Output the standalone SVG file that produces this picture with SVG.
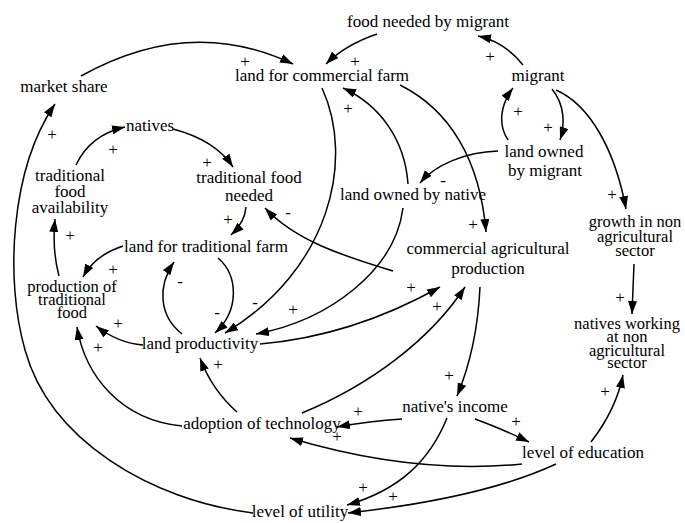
<svg xmlns="http://www.w3.org/2000/svg" width="685" height="523" viewBox="0 0 685 523">
<defs>
<marker id="ah" markerUnits="userSpaceOnUse" markerWidth="14" markerHeight="10" refX="13" refY="4.5" orient="auto">
<path d="M0,0 L13,4.5 L0,9 z" fill="#000"/>
</marker>
<style>
text{font-family:"Liberation Serif","Times New Roman",serif;font-size:17px;fill:#000;text-anchor:middle}
.t{font-size:16.5px}
.c path{fill:none;stroke:#000;stroke-width:1.5;marker-end:url(#ah)}
</style>
</defs>
<rect width="685" height="523" fill="#fff"/>
<g class="c" id="connectors">
<path d="M81,76 Q190,15 293,64"/>
<path d="M377,34 Q345,45 326,64"/>
<path d="M523,65 Q505,42 478,36"/>
<path d="M508,140 C498,125 500,105 513,88"/>
<path d="M552,89 C565,105 565,125 560,140"/>
<path d="M556,90 C590,105 615,150 626,209"/>
<path d="M634,264 L632,314"/>
<path d="M498,151 C465,152 435,165 420,183"/>
<path d="M408,184 C405,140 380,105 343,88"/>
<path d="M400,85 C450,110 480,160 486,232"/>
<path d="M322,88 C355,160 330,270 225,333"/>
<path d="M403,208 C395,270 330,320 256,334"/>
<path d="M393,271 C340,255 295,240 265,208"/>
<path d="M246,207 Q245,222 231,235"/>
<path d="M173,129 Q215,140 233,167"/>
<path d="M76,165 Q90,135 125,127"/>
<path d="M59,276 Q52,250 55,219"/>
<path d="M123,246 Q95,255 83,277"/>
<path d="M143,345 Q118,343 96,326"/>
<path d="M218,258 C238,275 240,310 215,333"/>
<path d="M182,334 C158,315 158,285 174,262"/>
<path d="M182,426 C120,420 85,375 77,327"/>
<path d="M253,513 C150,500 50,440 25,350 C5,280 10,170 55,104"/>
<path d="M237,412 Q212,390 200,358"/>
<path d="M302,413 C370,385 430,340 465,287"/>
<path d="M260,344 C330,338 390,315 440,287"/>
<path d="M480,287 C478,330 470,365 457,396"/>
<path d="M402,419 Q370,421 337,427"/>
<path d="M522,464 C460,470 380,465 290,438"/>
<path d="M475,419 Q500,428 529,442"/>
<path d="M591,442 C608,420 618,400 623,375"/>
<path d="M447,418 C430,460 400,490 347,505"/>
<path d="M556,464 C500,490 420,505 348,513"/>
</g>
<g id="polarities">
<text x="245" y="67">+</text>
<text x="355" y="67">+</text>
<text x="490" y="62">+</text>
<text x="518" y="117">+</text>
<text x="548" y="133">+</text>
<text x="612" y="200">+</text>
<text x="620" y="303">+</text>
<text x="443" y="186">-</text>
<text x="348" y="114">+</text>
<text x="473" y="230">+</text>
<text x="255" y="308">-</text>
<text x="293" y="315">+</text>
<text x="288" y="218">-</text>
<text x="228" y="225">+</text>
<text x="207" y="168">+</text>
<text x="113" y="155">+</text>
<text x="70" y="241">+</text>
<text x="113" y="275">+</text>
<text x="118" y="329">+</text>
<text x="217" y="318">-</text>
<text x="180" y="287">-</text>
<text x="98" y="353">+</text>
<text x="52" y="140">+</text>
<text x="218" y="370">+</text>
<text x="437" y="312">+</text>
<text x="411" y="293">+</text>
<text x="449" y="381">+</text>
<text x="358" y="417">+</text>
<text x="337" y="442">+</text>
<text x="516" y="427">+</text>
<text x="605" y="397">+</text>
<text x="363" y="493">+</text>
<text x="393" y="502">+</text>
</g>
<g id="food-needed-by-migrant"><text x="428" y="27">food needed by migrant</text></g>
<g id="land-for-commercial-farm"><text x="322" y="81">land for commercial farm</text></g>
<g id="migrant"><text x="538" y="81">migrant</text></g>
<g id="market-share"><text x="64" y="92">market share</text></g>
<g id="natives"><text x="150" y="131">natives</text></g>
<g id="land-owned-by-migrant"><text x="544" y="157">land owned</text><text x="545" y="176">by migrant</text></g>
<g id="traditional-food-availability"><text x="70" y="181">traditional</text><text x="70" y="197">food</text><text x="70" y="213">availability</text></g>
<g id="traditional-food-needed"><text x="249" y="183">traditional food</text><text x="249" y="201">needed</text></g>
<g id="land-owned-by-native"><text x="413" y="200">land owned by native</text></g>
<g id="commercial-agricultural-production"><text x="488" y="254">commercial agricultural</text><text x="488" y="274">production</text></g>
<g id="growth-in-non-agricultural-sector"><text class="t" x="635" y="227">growth in non</text><text class="t" x="635" y="242">agricultural</text><text class="t" x="635" y="256">sector</text></g>
<g id="land-for-traditional-farm"><text x="206" y="252">land for traditional farm</text></g>
<g id="production-of-traditional-food"><text class="t" x="72" y="292">production of</text><text class="t" x="72" y="305">traditional</text><text class="t" x="72" y="318">food</text></g>
<g id="land-productivity"><text x="200" y="349">land productivity</text></g>
<g id="natives-working-at-non-agricultural-sector"><text class="t" x="627" y="329">natives working</text><text class="t" x="627" y="342">at non</text><text class="t" x="627" y="356">agricultural</text><text class="t" x="627" y="368">sector</text></g>
<g id="natives-income"><text x="455" y="412">native's income</text></g>
<g id="adoption-of-technology"><text x="262" y="429">adoption of technology</text></g>
<g id="level-of-education"><text x="583" y="458">level of education</text></g>
<g id="level-of-utility"><text x="300" y="517">level of utility</text></g>
</svg>
